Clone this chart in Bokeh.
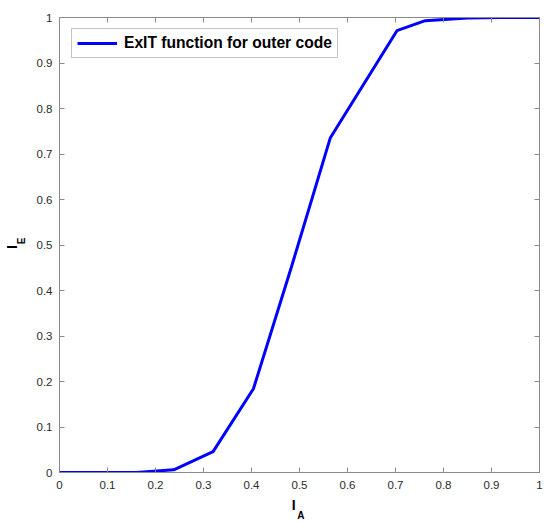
from bokeh.plotting import figure
from bokeh.models import (Range1d, LinearAxis, FixedTicker, Legend,
                          LegendItem, ColumnDataSource)
from bokeh.embed import file_html
from bokeh.resources import INLINE

# ---- data ----
ia = [0.0, 0.16, 0.238, 0.32, 0.404, 0.483, 0.564, 0.703, 0.762, 0.85, 0.92, 1.0]
ie = [0.0, 0.0, 0.006, 0.046, 0.184, 0.451, 0.735, 0.971, 0.993, 0.999, 1.0, 1.0]
series_name = "ExIT function for outer code"
tick_vals = [0, 0.1, 0.2, 0.3, 0.4, 0.5, 0.6, 0.7, 0.8, 0.9, 1]
tick_labels = ["0", "0.1", "0.2", "0.3", "0.4", "0.5", "0.6", "0.7", "0.8", "0.9", "1"]
x_label_main, x_label_sub = "I", "A"
y_label_main, y_label_sub = "I", "E"

FONT = "Liberation Sans"
AXCOL = "#8a8a8a"
TXT = "#2a2a2a"
NB = "\u00a0"

p = figure(width=548, height=523, output_backend="svg", toolbar_location=None,
           x_range=Range1d(0, 1), y_range=Range1d(0, 1),
           x_axis_location=None, y_axis_location=None,
           min_border_left=57, min_border_right=9,
           min_border_top=17, min_border_bottom=51)
p.grid.visible = False
p.outline_line_color = AXCOL
p.outline_line_width = 1
p.background_fill_color = "white"
p.border_fill_color = "white"

overrides = dict(zip(tick_vals, tick_labels))
blank = {v: "" for v in tick_vals}


def tick_axis(labels_on):
    ax = LinearAxis(ticker=FixedTicker(ticks=tick_vals))
    ax.axis_line_color = AXCOL
    ax.major_tick_line_color = AXCOL
    ax.major_tick_in = 5
    ax.major_tick_out = 0
    ax.minor_tick_line_color = None
    ax.major_label_text_font = FONT
    ax.major_label_text_color = TXT
    if labels_on:
        ax.major_label_overrides = overrides
        ax.major_label_text_font_size = "11.5px"
    else:
        ax.major_label_overrides = blank
        ax.major_label_text_font_size = "0px"
        ax.major_label_standoff = 0
    return ax


def label_axis(text, size, standoff):
    # an axis that only carries a (part of the) axis title
    ax = LinearAxis(ticker=FixedTicker(ticks=[]))
    ax.axis_line_color = None
    ax.major_tick_line_color = None
    ax.minor_tick_line_color = None
    ax.major_tick_in = 0
    ax.major_tick_out = 0
    ax.major_label_standoff = 0
    ax.major_label_text_font_size = "0px"
    ax.axis_label = text
    ax.axis_label_text_font = FONT
    ax.axis_label_text_font_style = "bold"
    ax.axis_label_text_font_size = size
    ax.axis_label_text_color = "black"
    ax.axis_label_standoff = standoff
    return ax


def style_title(ax, text, size, standoff):
    ax.axis_label = text
    ax.axis_label_text_font = FONT
    ax.axis_label_text_font_style = "bold"
    ax.axis_label_text_font_size = size
    ax.axis_label_text_color = "black"
    ax.axis_label_standoff = standoff


# bottom: ticks + "I", then subscript "A" just below/right
xb = tick_axis(True)
xb.major_label_standoff = 8
style_title(xb, x_label_main + NB + NB + NB, "14px", 5)
p.add_layout(xb, "below")
p.add_layout(label_axis(NB + x_label_sub, "10px", -6), "below")

# left: ticks + subscript "E" (nearer the axis), then "I"
yl = tick_axis(True)
yl.major_label_standoff = 7
style_title(yl, NB + NB + NB + y_label_sub, "10px", 7)
p.add_layout(yl, "left")
p.add_layout(label_axis(y_label_main + NB, "14px", -7), "left")

p.add_layout(tick_axis(False), "above")
p.add_layout(tick_axis(False), "right")

src = ColumnDataSource(dict(x=ia, y=ie))
r = p.line("x", "y", source=src, line_color="#0000ff", line_width=3)

legend = Legend(items=[LegendItem(label=series_name, renderers=[r])],
                location=(12, 414), margin=0, padding=5,
                glyph_width=40, glyph_height=14, label_height=14,
                label_standoff=7, spacing=0,
                label_text_font=FONT, label_text_font_style="bold",
                label_text_font_size="15.6px", label_text_color="black",
                border_line_color=AXCOL, border_line_width=1,
                background_fill_color="white", background_fill_alpha=1)
p.add_layout(legend)

open("out.html", "w").write(file_html(p, INLINE))
